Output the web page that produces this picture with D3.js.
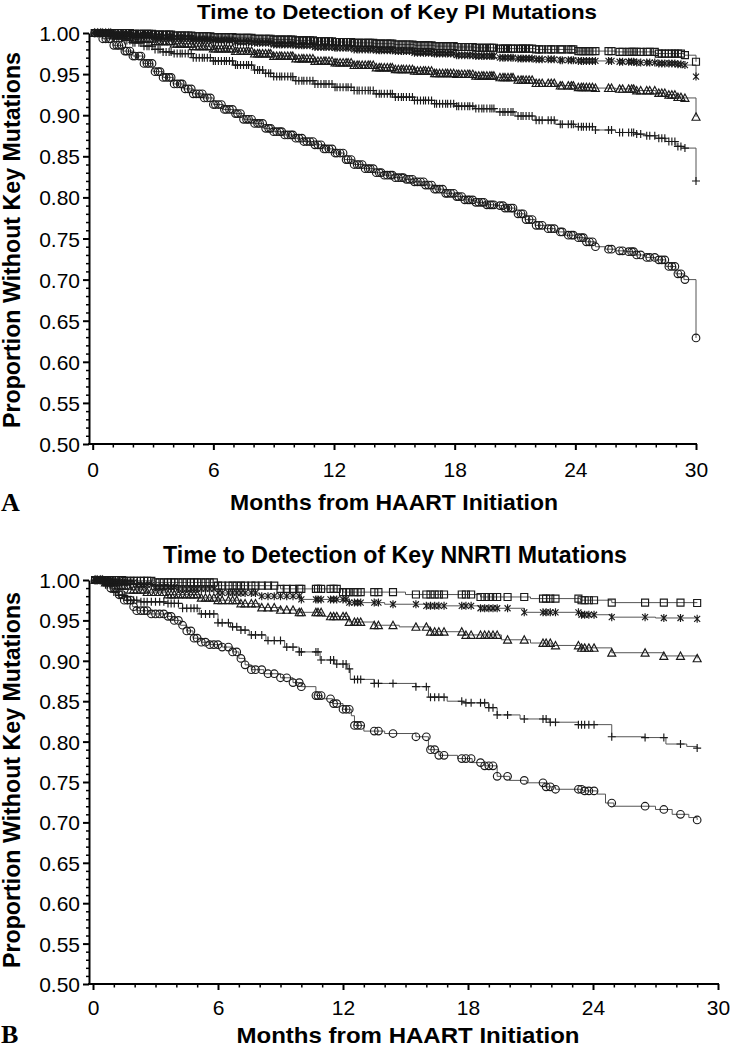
<!DOCTYPE html>
<html><head><meta charset="utf-8">
<script src="https://cdn.jsdelivr.net/npm/d3@7"></script>
<style>body{margin:0;background:#fff}svg{display:block}</style>
</head><body>
<script>
// ---------- DATA ----------
const monthTicks = [0, 6, 12, 18, 24, 30];
const yTicks = [0.50, 0.55, 0.60, 0.65, 0.70, 0.75, 0.80, 0.85, 0.90, 0.95, 1.00];
const titles = ["Time to Detection of Key PI Mutations", "Time to Detection of Key NNRTI Mutations"];
const xLabel = "Months from HAART Initiation";
const yLabel = "Proportion Without Key Mutations";
const panelLetters = ["A", "B"];
const shapes = ["square", "asterisk", "triangle", "plus", "circle"];

// Panel A (PI) survival steps [month, proportion]
const piSquare = [[0,1],[1,1],[2,0.999],[3,0.998],[4,0.997],[5,0.996],[6,0.995],[7,0.994],[8,0.993],[9,0.992],[10,0.991],[11,0.99],[12,0.989],[13,0.988],[14,0.987],[15,0.986],[16,0.985],[17,0.984],[18,0.983],[19,0.982],[20,0.981],[22,0.98],[24,0.978],[26,0.977],[28,0.975],[29.4,0.973],[30,0.965]];
const piAsterisk = [[0,1],[1,0.998],[2,0.997],[3,0.995],[4,0.994],[5,0.992],[6,0.991],[7,0.989],[8,0.988],[9,0.986],[10,0.985],[11,0.983],[12,0.982],[13,0.98],[14,0.979],[15,0.978],[16,0.976],[17,0.975],[18,0.973],[19,0.972],[20,0.97],[21,0.969],[22,0.968],[23,0.967],[24,0.966],[26,0.965],[27,0.964],[28,0.963],[29,0.962],[29.4,0.961],[30,0.947]];
const piTriangle = [[0,1],[1,0.997],[2,0.993],[3,0.99],[4,0.987],[5,0.984],[6,0.981],[7,0.978],[8,0.975],[9,0.972],[10,0.969],[11,0.966],[12,0.964],[13,0.961],[14,0.958],[15,0.956],[16,0.954],[17,0.951],[18,0.95],[19,0.948],[20,0.946],[21,0.943],[22,0.939],[23,0.936],[24,0.934],[25,0.933],[26,0.932],[27,0.93],[28,0.927],[28.5,0.925],[29,0.922],[29.4,0.921],[30,0.898]];
const piPlus = [[0,1],[0.5,0.998],[1,0.995],[1.5,0.991],[2,0.988],[2.5,0.984],[3,0.98],[3.5,0.977],[4,0.975],[5,0.97],[6,0.966],[7,0.961],[8,0.955],[8.5,0.951],[9,0.947],[10,0.942],[11,0.938],[12,0.934],[13,0.93],[14,0.926],[15,0.922],[16,0.918],[17,0.914],[18,0.911],[19,0.908],[20,0.904],[21,0.899],[22,0.894],[23,0.889],[24,0.886],[25,0.882],[26,0.879],[27,0.877],[27.5,0.875],[28,0.872],[28.5,0.868],[29,0.862],[29.4,0.86],[30,0.82]];
const piCircle = [[0,1],[0.5,0.993],[1,0.985],[1.5,0.978],[2,0.972],[2.5,0.963],[3,0.953],[3.5,0.946],[4,0.938],[4.5,0.932],[5,0.926],[5.5,0.921],[6,0.913],[6.5,0.907],[7,0.902],[7.5,0.895],[8,0.89],[8.5,0.884],[9,0.88],[9.5,0.876],[10,0.872],[10.5,0.868],[11,0.864],[11.5,0.859],[12,0.854],[12.5,0.846],[13,0.84],[13.5,0.835],[14,0.83],[14.5,0.827],[15,0.824],[15.5,0.822],[16,0.819],[16.5,0.815],[17,0.81],[17.5,0.805],[18,0.801],[18.5,0.797],[19,0.794],[19.5,0.791],[20,0.79],[20.5,0.787],[21,0.78],[21.5,0.773],[22,0.766],[22.5,0.762],[23,0.758],[23.5,0.754],[24,0.751],[24.5,0.746],[25,0.74],[25.5,0.737],[26,0.735],[26.5,0.734],[27,0.73],[27.5,0.727],[28,0.724],[28.5,0.716],[29,0.707],[29.4,0.7],[30,0.629]];
const censorPI = [0.1,0.25,0.4,0.5,0.65,0.8,0.9,1.05,1.2,1.3,1.45,1.6,1.7,1.85,2.0,2.1,2.3,2.4,2.55,2.7,2.8,2.95,3.1,3.25,3.35,3.5,3.65,3.8,3.9,4.05,4.2,4.35,4.45,4.6,4.75,4.9,5.0,5.15,5.3,5.45,5.55,5.7,5.85,6.0,6.1,6.25,6.4,6.55,6.65,6.8,6.95,7.1,7.2,7.35,7.5,7.65,7.75,7.9,8.05,8.2,8.3,8.45,8.6,8.75,8.85,9.0,9.15,9.3,9.4,9.55,9.7,9.85,9.95,10.1,10.25,10.4,10.5,10.65,10.8,10.95,11.05,11.2,11.35,11.5,11.6,11.75,11.9,12.05,12.15,12.3,12.45,12.6,12.7,12.85,13.0,13.15,13.25,13.4,13.55,13.7,13.8,13.95,14.1,14.25,14.35,14.5,14.65,14.8,14.9,15.05,15.2,15.35,15.45,15.6,15.75,15.9,16.0,16.15,16.3,16.45,16.55,16.7,16.85,17.0,17.1,17.25,17.4,17.55,17.65,17.8,17.95,18.1,18.2,18.35,18.5,18.65,18.75,18.9,19.05,19.2,19.35,19.45,19.6,19.75,19.85,19.95,20.25,20.4,20.5,20.65,20.8,20.9,21.15,21.3,21.4,21.55,21.7,21.85,22.05,22.2,22.35,22.65,22.8,22.95,23.25,23.35,23.65,23.8,23.9,24.15,24.3,24.4,24.55,24.7,24.85,25.0,25.65,25.8,26.2,26.35,26.65,26.8,26.9,27.05,27.25,27.55,27.7,27.95,28.15,28.3,28.45,28.65,28.8,28.95,29.1,29.25,29.45,30];

// Panel B (NNRTI)
const nnSquare = [[0,1],[1.5,0.999],[3,0.997],[6,0.993],[9,0.989],[12,0.985],[15,0.982],[18.6,0.979],[21,0.977],[23.4,0.975],[24.9,0.972],[29,0.9715]];
const nnAsterisk = [[0,1],[1,0.997],[2,0.994],[3,0.991],[4,0.989],[6,0.984],[8,0.98],[10,0.976],[12.3,0.972],[14,0.97],[16,0.968],[18.6,0.965],[20.7,0.96],[23.4,0.957],[24.9,0.954],[27,0.953],[29,0.952]];
const nnTriangle = [[0,1],[0.6,0.997],[1.2,0.993],[1.8,0.988],[2.5,0.985],[3.5,0.982],[5.1,0.978],[6.0,0.975],[7.0,0.971],[8.0,0.966],[9.0,0.963],[9.9,0.96],[11.0,0.955],[12.3,0.948],[13.5,0.944],[14.7,0.942],[16.2,0.936],[17.8,0.932],[19.6,0.926],[21.0,0.922],[22.0,0.919],[23.4,0.916],[24.9,0.91],[27.4,0.906],[29.0,0.903]];
const nnPlus = [[0,1],[0.5,0.994],[0.9,0.985],[1.2,0.981],[1.6,0.975],[2.3,0.973],[3.5,0.971],[4.3,0.965],[5.1,0.958],[6.0,0.947],[6.6,0.942],[7.1,0.938],[7.5,0.932],[8.3,0.925],[9.2,0.917],[9.9,0.911],[10.9,0.901],[11.6,0.896],[12.2,0.89],[12.35,0.877],[13.5,0.872],[15.5,0.868],[16.1,0.855],[17.0,0.85],[17.8,0.848],[19.0,0.842],[19.4,0.833],[20.5,0.828],[21.9,0.824],[23.3,0.821],[24.9,0.806],[26.5,0.805],[27.5,0.797],[28.5,0.794],[29.0,0.792]];
const nnCircle = [[0,1],[0.5,0.998],[0.8,0.99],[1.2,0.982],[1.5,0.975],[1.9,0.967],[2.1,0.962],[2.7,0.958],[3.6,0.955],[3.8,0.95],[4.2,0.944],[4.5,0.937],[4.8,0.928],[5.2,0.923],[5.6,0.92],[6.2,0.917],[6.7,0.911],[7.0,0.903],[7.3,0.895],[7.6,0.889],[8.2,0.884],[9.0,0.879],[9.6,0.873],[10.0,0.868],[10.7,0.857],[11.0,0.853],[11.5,0.847],[12.0,0.84],[12.4,0.832],[12.55,0.82],[13.0,0.813],[14.0,0.81],[15.5,0.806],[16.1,0.79],[16.6,0.783],[17.5,0.779],[18.2,0.774],[18.8,0.77],[19.4,0.757],[20.0,0.752],[20.8,0.749],[21.7,0.744],[22.2,0.741],[23.5,0.739],[24.2,0.735],[24.6,0.724],[25.0,0.72],[27.0,0.716],[27.8,0.71],[28.6,0.706],[29.0,0.703]];
const censorNNRTI = [0.1,0.2,0.35,0.45,0.6,0.7,0.85,1.0,1.1,1.25,1.4,1.5,1.65,1.8,1.95,2.1,2.3,2.45,2.6,2.8,3.0,3.2,3.4,3.6,3.75,3.9,4.1,4.3,4.5,4.7,4.85,5.0,5.2,5.4,5.6,5.8,6.0,6.2,6.5,6.7,6.9,7.1,7.3,7.6,7.8,8.1,8.4,8.7,9.0,9.3,9.6,9.9,10.0,10.7,10.8,10.95,11.4,11.55,11.7,12.0,12.15,12.3,12.55,12.7,12.85,13.5,13.7,14.4,15.5,16.0,16.2,16.4,16.6,16.85,17.7,17.9,18.15,18.6,18.8,19.0,19.2,19.4,19.9,20.7,21.6,21.75,21.95,22.2,23.3,23.45,23.6,23.8,24.05,24.9,26.5,27.4,28.2,29.0];

// ---------- DRAW ----------
const W = 731, H = 1050;
const svg = d3.select("body").append("svg").attr("width", W).attr("height", H);
const SANS = "'Liberation Sans', Arial, Helvetica, sans-serif";

function markerPath(shape) {
  const h = 4;
  switch (shape) {
    case "square": return `M-3.5,-3.5h7v7h-7Z`;
    case "triangle": return `M0,${-h}L${h},${h*0.85}L${-h},${h*0.85}Z`;
    case "plus": return `M${-h},0H${h}M0,${-h}V${h}`;
    case "asterisk": { const d = h*0.75; return `M${-d},${-d}L${d},${d}M${-d},${d}L${d},${-d}M0,${-h}V${h}`; }
  }
  return null;
}

function panel(cfg) {
  const g = svg.append("g");
  const x = d3.scaleLinear().domain([0, 30]).range([cfg.x0, cfg.x1]);
  const y = d3.scaleLinear().domain([0.5, 1]).range([cfg.yBot, cfg.yTop]);

  // y axis
  const ya = g.append("g").attr("transform", `translate(${cfg.axisX},0)`)
    .call(d3.axisLeft(y).tickValues(yTicks).tickFormat(d3.format(".2f")).tickSize(6).tickSizeOuter(0).tickPadding(3));
  ya.select(".domain").attr("stroke-width", 2).attr("stroke", "#000");
  ya.selectAll(".tick line").attr("stroke-width", 2);
  ya.selectAll("text").attr("font-family", SANS).attr("font-size", 21).attr("fill", "#000").attr("dy", "0.36em");
  const yMinor = d3.range(51, 100).filter(v => v % 5 !== 0).map(v => v / 100);
  const ym = g.append("g").attr("transform", `translate(${cfg.axisX},0)`)
    .call(d3.axisLeft(y).tickValues(yMinor).tickFormat("").tickSize(3));
  ym.select(".domain").remove();
  ym.selectAll(".tick line").attr("stroke-width", 1.5);

  // x axis
  const xa = g.append("g").attr("transform", `translate(0,${cfg.yBot})`)
    .call(d3.axisBottom(x).tickValues(monthTicks).tickFormat(d3.format("d")).tickSize(6).tickSizeOuter(0));
  xa.select(".domain").remove();
  xa.selectAll(".tick line").attr("stroke-width", 2);
  xa.selectAll("text").attr("font-family", SANS).attr("font-size", 21).attr("fill", "#000")
    .attr("dy", 0).attr("y", cfg.xTickBaseline - cfg.yBot);
  const xMinor = d3.range(0, 31).filter(v => v % 6 !== 0);
  const xm = g.append("g").attr("transform", `translate(0,${cfg.yBot})`)
    .call(d3.axisBottom(x).tickValues(xMinor).tickFormat("").tickSize(3.5));
  xm.select(".domain").remove();
  xm.selectAll(".tick line").attr("stroke-width", 1.5);
  g.append("line").attr("x1", cfg.axisX - 1).attr("x2", x(30) + 1)
    .attr("y1", cfg.yBot).attr("y2", cfg.yBot).attr("stroke", "#000").attr("stroke-width", 2);

  // curves
  const line = d3.line().x(d => x(d[0])).y(d => y(d[1])).curve(d3.curveStepAfter);
  cfg.series.forEach((data) => {
    g.append("path").attr("d", line(data)).attr("fill", "none")
      .attr("stroke", "#555").attr("stroke-width", 1);
  });
  cfg.series.forEach((data, i) => {
    const shape = shapes[i];
    const tEnd = data[data.length - 1][0];
    const surv = t => { let v = data[0][1]; for (const p of data) { if (p[0] <= t + 1e-9) v = p[1]; else break; } return v; };
    const pts = cfg.censor.filter(t => t <= tEnd + 1e-9).map(t => [t, surv(t)]);
    const mg = g.append("g").attr("fill", "none").attr("stroke", "#1a1a1a").attr("stroke-width", 1.15);
    if (shape === "circle") {
      mg.selectAll("circle").data(pts).join("circle")
        .attr("cx", d => x(d[0])).attr("cy", d => y(d[1])).attr("r", 3.8);
    } else {
      mg.selectAll("path").data(pts).join("path")
        .attr("transform", d => `translate(${x(d[0])},${y(d[1])})`).attr("d", markerPath(shape));
    }
  });

  // texts
  g.append("text").attr("x", cfg.titleX).attr("y", cfg.titleY).attr("text-anchor", "middle")
    .attr("font-family", SANS).attr("font-weight", "bold").attr("font-size", cfg.titleSize)
    .attr("textLength", cfg.titleLen).attr("lengthAdjust", "spacingAndGlyphs").text(cfg.title);
  g.append("text").attr("x", cfg.xLabX).attr("y", cfg.xLabY).attr("text-anchor", "middle")
    .attr("font-family", SANS).attr("font-weight", "bold").attr("font-size", 22)
    .attr("textLength", cfg.xLabLen).attr("lengthAdjust", "spacingAndGlyphs").text(xLabel);
  g.append("text").attr("transform", `translate(20,${cfg.yLabY}) rotate(-90)`).attr("text-anchor", "middle")
    .attr("font-family", SANS).attr("font-weight", "bold").attr("font-size", 23)
    .attr("textLength", 376).attr("lengthAdjust", "spacingAndGlyphs").text(yLabel);
  g.append("text").attr("x", 1).attr("y", cfg.letterY)
    .attr("font-family", "'Liberation Serif', 'Times New Roman', serif").attr("font-weight", "bold")
    .attr("font-size", 26).text(cfg.letter);
}

panel({
  x0: 92.7, x1: 696, yTop: 33, yBot: 444, axisX: 89, xTickBaseline: 477,
  title: titles[0], titleX: 397, titleY: 19, titleLen: 400, titleSize: 21,
  xLabX: 394, xLabY: 510, xLabLen: 328, yLabY: 240, letter: panelLetters[0], letterY: 511,
  series: [piSquare, piAsterisk, piTriangle, piPlus, piCircle], censor: censorPI
});
panel({
  x0: 93, x1: 718, yTop: 580, yBot: 984, axisX: 89, xTickBaseline: 1015,
  title: titles[1], titleX: 395, titleY: 563, titleLen: 464, titleSize: 23,
  xLabX: 408, xLabY: 1043, xLabLen: 343, yLabY: 780, letter: panelLetters[1], letterY: 1043,
  series: [nnSquare, nnAsterisk, nnTriangle, nnPlus, nnCircle], censor: censorNNRTI
});
</script>
</body></html>
